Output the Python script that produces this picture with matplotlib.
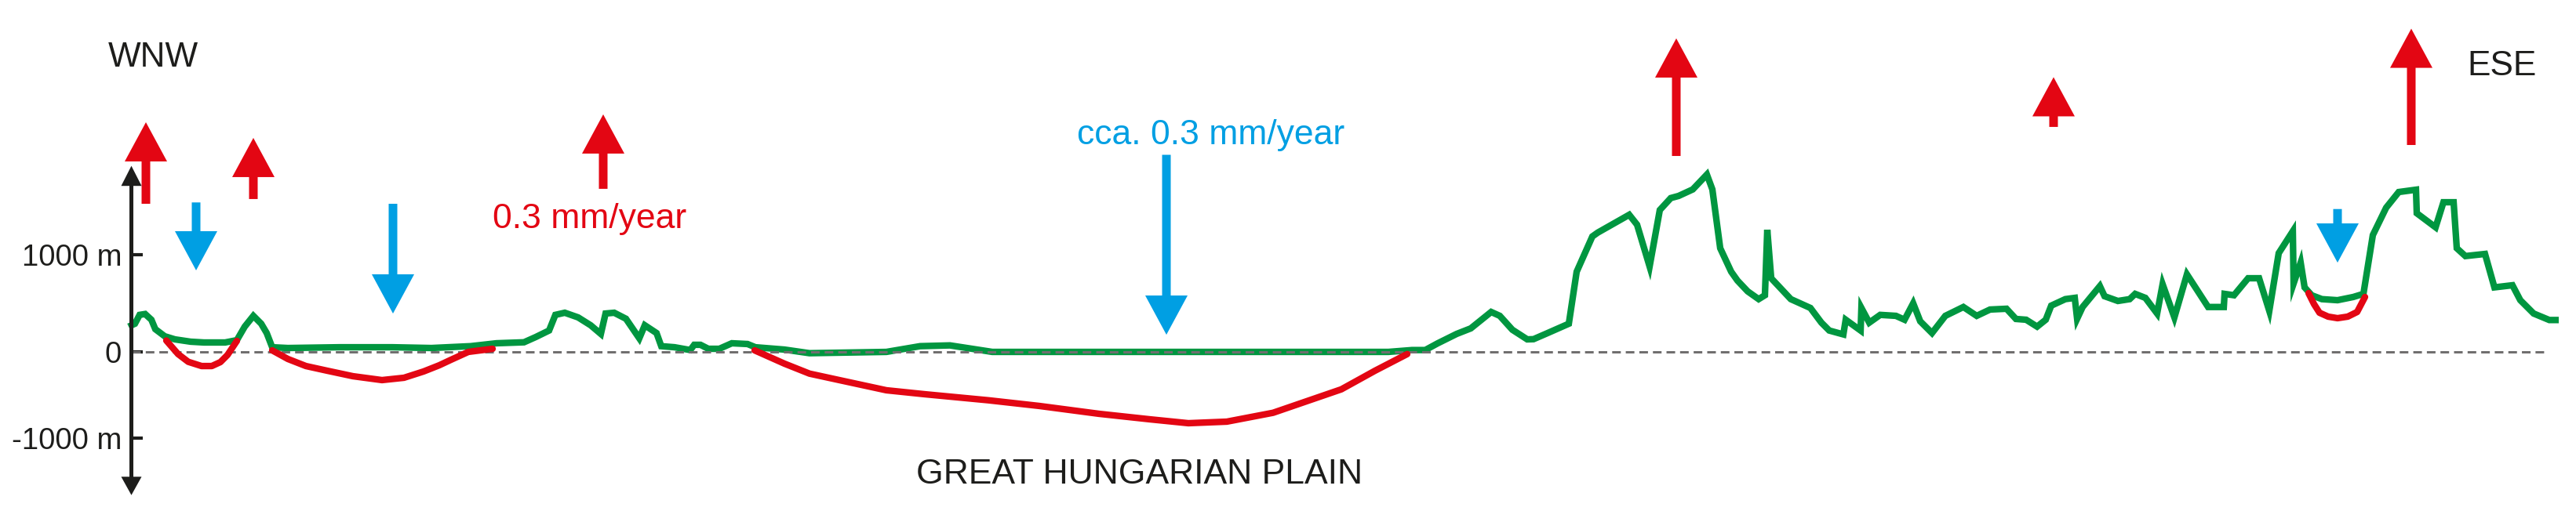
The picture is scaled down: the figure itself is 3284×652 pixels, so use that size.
import numpy as np
import matplotlib
matplotlib.use("Agg")
import matplotlib.pyplot as plt
from matplotlib.ticker import NullLocator

plt.rcParams['font.family'] = ['Liberation Sans', 'DejaVu Sans']

# ---------------- data ----------------
# distance along the WNW-ESE profile (arbitrary units) and elevation (m)
profile_x = [164, 172, 178, 185, 193, 198, 210, 223, 243, 260,
             287, 302, 312, 323, 333, 340, 347, 367, 433, 500,
             550, 600, 633, 668, 683, 700, 708, 720, 737, 753,
             766, 772, 783, 798, 807, 815, 822, 837, 843, 860,
             880, 885, 893, 903, 917, 933, 953, 963, 1000, 1032,
             1130, 1173, 1211, 1265, 1770, 1800, 1817, 1833, 1857, 1875,
             1901, 1912, 1928, 1947, 1955, 1973, 2000, 2010, 2030, 2037,
             2077, 2087, 2103, 2116, 2130, 2140, 2158, 2176, 2183, 2193,
             2207, 2215, 2228, 2242, 2250, 2253, 2258, 2283, 2308, 2322,
             2332, 2350, 2353, 2372, 2373, 2383, 2397, 2417, 2428, 2439,
             2448, 2463, 2480, 2503, 2520, 2537, 2558, 2570, 2583, 2597,
             2608, 2615, 2633, 2645, 2648, 2655, 2677, 2683, 2700, 2715,
             2722, 2735, 2750, 2757, 2772, 2788, 2815, 2835, 2836, 2848,
             2866, 2880, 2893, 2905, 2923, 2924, 2933, 2938, 2947, 2960,
             2980, 3000, 3013, 3025, 3042, 3058, 3080, 3081, 3105, 3115,
             3128, 3132, 3143, 3168, 3180, 3203, 3213, 3230, 3250, 3262]
profile_elev = [260, 290, 381, 390, 331, 234, 161, 129, 105, 97,
                97, 121, 260, 371, 290, 194, 48, 40, 48, 48,
                40, 59, 89, 99, 153, 220, 381, 403, 355, 274,
                185, 395, 403, 341, 234, 140, 274, 194, 59, 48,
                19, 73, 73, 32, 32, 89, 81, 48, 24, -15,
                0, 59, 67, 0, 0, 19, 19, 89, 185, 242,
                411, 371, 228, 129, 131, 194, 290, 825, 1188, 1228,
                1411, 1309, 879, 1460, 1583, 1605, 1672, 1825, 1672, 1067,
                825, 734, 623, 543, 583, 1256, 758, 543, 452, 301,
                220, 180, 331, 220, 452, 301, 381, 371, 331, 500,
                315, 194, 371, 462, 371, 436, 444, 339, 331, 260,
                331, 476, 543, 556, 341, 462, 677, 573, 524, 543,
                597, 556, 395, 696, 355, 798, 462, 462, 597, 583,
                758, 758, 422, 1016, 1242, 704, 919, 664, 583, 543,
                532, 565, 597, 1202, 1484, 1645, 1669, 1427, 1282, 1540,
                1540, 1067, 986, 1008, 664, 686, 532, 395, 328, 328]

# pre-Quaternary / basin floor segments (red)
basin1_x = [212, 227, 240, 257, 270, 281, 290, 302]
basin1_elev = [117, -25, -115, -164, -164, -118, -36, 113]
basin2_x = [347, 367, 390, 417, 450, 487, 515, 540, 560, 575, 597, 628]
basin2_elev = [16, -82, -164, -218, -282, -327, -300, -227, -155, -91, 0, 32]
basin3_x = [962, 1000, 1032, 1070, 1130, 1179, 1260, 1325, 1401, 1466,
            1515, 1564, 1623, 1710, 1753, 1794]
basin3_elev = [16, -136, -252, -327, -445, -491, -561, -627, -718, -782,
               -827, -809, -706, -434, -218, -25]
basin4_x = [2943, 2950, 2957, 2968, 2980, 2993, 3005, 3015]
basin4_elev = [605, 492, 403, 363, 347, 363, 411, 565]

# uplift (red, up) and subsidence (blue, down) arrows: x, tail, tip (m)
uplift_x = [186, 323, 769, 2137, 2618, 3074]
uplift_from = [1524, 1573, 1678, 2016, 2315, 2129]
uplift_to = [2363, 2202, 2444, 3226, 2827, 3326]
subs_x = [250, 501, 1487, 2980]
subs_from = [1538, 1524, 2028, 1470]
subs_to = [839, 395, 177, 919]

ytick_vals = [1000, 0, -1000]
ytick_labels = ['1000 m', '0', '-1000 m']

# ---------------- styling ----------------
GREEN = '#009640'
RED = '#E30613'
BLUE = '#009FE3'
GREY = '#706F6F'
BLACK = '#1D1D1B'

W, H = 3284, 652
DPI = 100
M_PER_PX_UP = 1000 / 124.0
M_PER_PX_DN = 1000 / 110.0
NEG_RATIO = M_PER_PX_UP / M_PER_PX_DN
ZERO_PX = 449
AXIS_X = 167.5


def fwd(y):
    y = np.asarray(y, dtype=float)
    return np.where(y < 0, y * NEG_RATIO, y)


def inv(u):
    u = np.asarray(u, dtype=float)
    return np.where(u < 0, u / NEG_RATIO, u)


fig = plt.figure(figsize=(W / DPI, H / DPI), dpi=DPI)
ax = fig.add_axes([0, 0, 1, 1])
ax.set_yscale('function', functions=(fwd, inv))
ax.set_xlim(0, W)
ax.set_ylim(-(H - ZERO_PX) * M_PER_PX_DN, ZERO_PX * M_PER_PX_UP)

for s in ax.spines.values():
    s.set_visible(False)
ax.set_xticks([])
ax.spines['left'].set_position(('data', AXIS_X))
ax.set_yticks(ytick_vals, labels=ytick_labels)
ax.yaxis.set_minor_locator(NullLocator())
ax.tick_params(axis='y', direction='in', length=10, width=3, color=BLACK,
               pad=9, labelsize=27.5, labelcolor=BLACK)

LW = 6.0
# topography
ax.plot(profile_x, profile_elev, color=GREEN, lw=LW, solid_joinstyle='miter',
        solid_capstyle='butt', zorder=2)
# sea level
ax.hlines(0, AXIS_X, 3248, colors=GREY, lw=2.16, linestyles=[(0, (3.67, 2.1))],
          zorder=3)
# basin floors
for bx, by in [(basin1_x, basin1_elev), (basin2_x, basin2_elev),
               (basin3_x, basin3_elev), (basin4_x, basin4_elev)]:
    ax.plot(bx, by, color=RED, lw=LW, solid_joinstyle='round',
            solid_capstyle='round', zorder=4)

# vertical axis with arrow heads
ax.arrow(AXIS_X, 0, 0, 1914, width=5, head_width=26, head_length=206,
         length_includes_head=True, color=BLACK, lw=0, zorder=6)
ax.arrow(AXIS_X, 0, 0, -1661, width=5, head_width=26, head_length=213,
         length_includes_head=True, color=BLACK, lw=0, zorder=6)

HEAD_LEN = 50 * M_PER_PX_UP
for x, a, b in zip(uplift_x, uplift_from, uplift_to):
    ax.arrow(x, a, 0, b - a, width=11, head_width=54, head_length=HEAD_LEN,
             length_includes_head=True, color=RED, lw=0, zorder=5)
for x, a, b in zip(subs_x, subs_from, subs_to):
    ax.arrow(x, a, 0, b - a, width=11, head_width=54, head_length=HEAD_LEN,
             length_includes_head=True, color=BLUE, lw=0, zorder=5)


def put(text, xpx, ypx, color, size=32.0):
    ax.text(xpx / W, 1 - ypx / H, text, transform=ax.transAxes, ha='left',
            va='baseline', color=color, fontsize=size)


put('WNW', 138, 85, BLACK, 31.8)
put('ESE', 3145, 96, BLACK, 31.8)
put('0.3 mm/year', 628, 291, RED)
put('cca. 0.3 mm/year', 1373, 184, BLUE)
put('GREAT HUNGARIAN PLAIN', 1168, 617, BLACK)

# a first draw settles the non-linear scale transforms before saving
fig.canvas.draw()
fig.savefig('out.png', dpi=DPI)
